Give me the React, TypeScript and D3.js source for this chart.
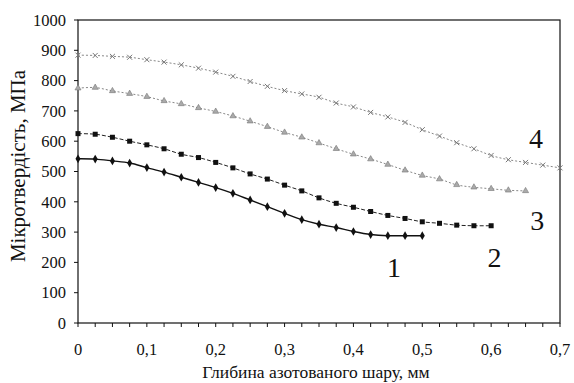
import React, { useEffect, useRef } from "react";
import * as d3 from "d3";

// depth, mm (step 0.025)
const depth1 = d3.range(0, 0.5001, 0.025);
const depth2 = d3.range(0, 0.6001, 0.025);
const depth3 = d3.range(0, 0.6501, 0.025);
const depth4 = d3.range(0, 0.7001, 0.025);

// microhardness, MPa
const hard1 = [542, 541, 535, 528, 513, 498, 481, 464, 447, 428, 406, 384, 362, 341, 326, 315, 302, 292, 288, 288, 288];
const hard2 = [625, 623, 613, 600, 588, 575, 557, 546, 530, 512, 492, 475, 455, 436, 413, 395, 382, 368, 355, 345, 334, 329, 323, 321, 321];
const hard3 = [775, 777, 766, 757, 747, 733, 723, 710, 698, 683, 666, 648, 629, 613, 594, 575, 557, 541, 523, 504, 487, 475, 456, 448, 443, 438, 436];
const hard4 = [884, 883, 880, 877, 869, 861, 852, 841, 828, 814, 797, 781, 767, 756, 745, 726, 713, 695, 680, 662, 638, 617, 595, 575, 553, 539, 530, 521, 512];

const curveLabels = ["1", "2", "3", "4"];
const labelPos = [[0.459, 277], [0.605, 267], [0.667, 230], [0.665, 148]]; // [x in mm, baseline px]

const yTicks = d3.range(0, 1001, 100);
const xTicks = d3.range(0, 0.7001, 0.1);
const xMinor = d3.range(0, 0.7001, 0.025);

function App() {
  const ref = useRef<SVGSVGElement>(null);

  useEffect(() => {
    const svg = d3.select(ref.current);
    svg.selectAll("*").remove();

    const x = d3.scaleLinear().domain([0, 0.7]).range([78, 560]);
    const y = d3.scaleLinear().domain([0, 1000]).range([323, 20]);
    const font = "Liberation Serif, DejaVu Serif, serif";

    // frame
    svg.append("rect")
      .attr("x", x(0)).attr("y", y(1000))
      .attr("width", x(0.7) - x(0)).attr("height", y(0) - y(1000))
      .attr("fill", "none").attr("stroke", "#111").attr("stroke-width", 1.2);

    // y axis ticks + labels
    const gy = svg.append("g").style("font-family", font).style("font-size", "16.5px").attr("fill", "#111");
    yTicks.forEach(t => {
      gy.append("line").attr("x1", x(0) - 4).attr("x2", x(0)).attr("y1", y(t)).attr("y2", y(t))
        .attr("stroke", "#111");
      gy.append("text").attr("x", 66).attr("y", y(t)).attr("dy", "0.35em")
        .attr("text-anchor", "end").text(t);
    });

    // x axis ticks + labels
    const gx = svg.append("g").style("font-family", font).style("font-size", "16.5px").attr("fill", "#111");
    xMinor.forEach(t => {
      gx.append("line").attr("x1", x(t)).attr("x2", x(t)).attr("y1", y(0)).attr("y2", y(0) + 4)
        .attr("stroke", "#111");
    });
    xTicks.forEach(t => {
      gx.append("text").attr("x", x(t)).attr("y", 355)
        .attr("text-anchor", "middle").text(t === 0 ? "0" : d3.format(".1f")(t).replace(".", ","));
    });

    svg.append("text").attr("x", 316).attr("y", 378).attr("text-anchor", "middle")
      .style("font-family", font).style("font-size", "17.5px").attr("fill", "#111")
      .text("Глибина азотованого шару, мм");

    svg.append("text").attr("transform", "translate(25,166) rotate(-90)").attr("text-anchor", "middle")
      .style("font-family", font).style("font-size", "21px").attr("fill", "#111")
      .text("Мікротвердість, МПа");

    const line = d3.line<[number, number]>().x(d => x(d[0])).y(d => y(d[1])).curve(d3.curveCatmullRom);

    const series = [
      { xs: depth1, ys: hard1, color: "#111", dash: null, marker: "diamond" },
      { xs: depth2, ys: hard2, color: "#222", dash: "4,2", marker: "square" },
      { xs: depth3, ys: hard3, color: "#888", dash: "2,2", marker: "triangle" },
      { xs: depth4, ys: hard4, color: "#888", dash: "2,2", marker: "cross" },
    ];

    series.forEach(s => {
      const pts: [number, number][] = s.ys.map((v, i) => [s.xs[i], v]);
      svg.append("path").attr("d", line(pts)).attr("fill", "none")
        .attr("stroke", s.color).attr("stroke-width", s.marker === "diamond" ? 1.4 : 1)
        .attr("stroke-dasharray", s.dash);
      const g = svg.append("g");
      pts.forEach(p => {
        const cx = x(p[0]), cy = y(p[1]);
        if (s.marker === "diamond") {
          g.append("path").attr("d", d3.symbol(d3.symbolDiamond, 22)()).attr("transform", `translate(${cx},${cy})`).attr("fill", "#111");
        } else if (s.marker === "square") {
          g.append("rect").attr("x", cx - 2.5).attr("y", cy - 2.5).attr("width", 5).attr("height", 5).attr("fill", "#111");
        } else if (s.marker === "triangle") {
          g.append("path").attr("d", d3.symbol(d3.symbolTriangle, 16)()).attr("transform", `translate(${cx},${cy})`)
            .attr("fill", "#aaa").attr("stroke", "#777").attr("stroke-width", 0.6);
        } else {
          g.append("path").attr("d", d3.symbol(d3.symbolX, 18)()).attr("transform", `translate(${cx},${cy})`)
            .attr("fill", "none").attr("stroke", "#777").attr("stroke-width", 1);
        }
      });
    });

    curveLabels.forEach((lbl, i) => {
      svg.append("text").attr("x", x(labelPos[i][0])).attr("y", labelPos[i][1]).attr("text-anchor", "middle")
        .style("font-family", font).style("font-size", "28px").attr("fill", "#111").text(lbl);
    });
  }, []);

  return (
    <svg ref={ref} width={574} height={383}
      style={{ position: "absolute", left: 0, top: 0, background: "#fff" }} />
  );
}

export default App;
